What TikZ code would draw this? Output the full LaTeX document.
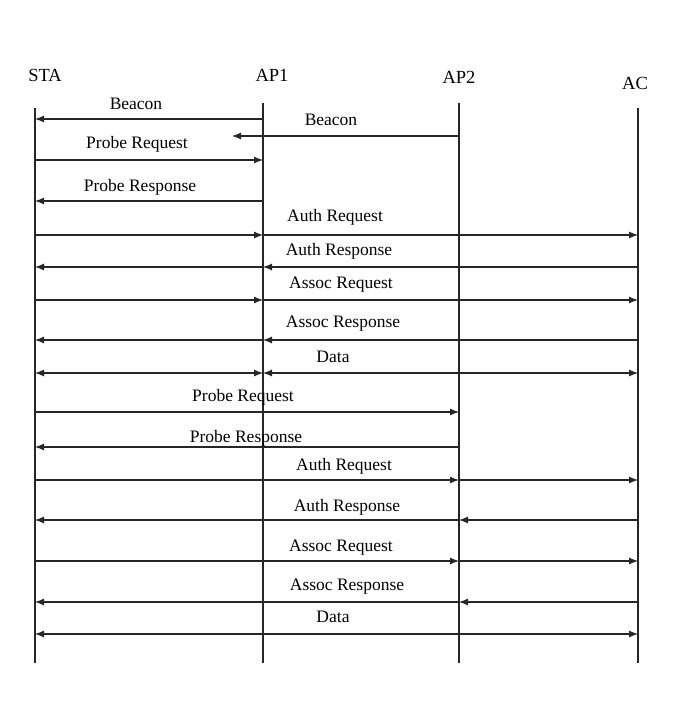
\documentclass[tikz,border=0pt]{standalone}
\usepackage{fontspec}
\setmainfont{Liberation Serif}
\usetikzlibrary{arrows.meta}

\begin{document}
\begin{tikzpicture}[x=1pt, y=-1pt,
    msg/.style={-{Latex[length=9pt,width=7pt]}, line width=1.1pt, black!85},
    both/.style={{Latex[length=9pt,width=7pt]}-{Latex[length=9pt,width=7pt]}, line width=1.1pt, black!85},
    life/.style={line width=1.1pt, black!85},
    lbl/.style={font=\fontsize{17.5}{19}\selectfont, inner sep=0pt},
    head/.style={font=\fontsize{18.5}{20}\selectfont, inner sep=0pt}]
    \useasboundingbox (0,0) rectangle (690,701);

    % Entities
    \node[head] (sta) at (45,75) {STA};
    \node[head] (ap1) at (272,75) {AP1};
    \node[head] (ap2) at (459,77) {AP2};
    \node[head] (ac)  at (635,83) {AC};

    % Lifelines
    \coordinate (staT) at (35,108);  \coordinate (staB) at (35,663);
    \coordinate (ap1T) at (263,103); \coordinate (ap1B) at (263,663);
    \coordinate (ap2T) at (459,103); \coordinate (ap2B) at (459,663);
    \coordinate (acT)  at (638,108); \coordinate (acB)  at (638,663);
    \draw[life] (staT) -- (staB);
    \draw[life] (ap1T) -- (ap1B);
    \draw[life] (ap2T) -- (ap2B);
    \draw[life] (acT) -- (acB);

    % Message rows
    \foreach \n/\y in {1/119, 2/136, 3/160, 4/201, 5/235, 6/267, 7/300, 8/340,
        9/373, 10/412, 11/447, 12/480, 13/520, 14/561, 15/602, 16/634}
        \coordinate (r\n) at (0,\y);

    % Beacons
    \draw[msg] (ap1T |- r1) -- (staT |- r1);
    \node[lbl] (l1) at (136,104) {Beacon};
    \coordinate (bcnEnd) at (232,136);
    \draw[msg] (ap2T |- r2) -- (bcnEnd);
    \node[lbl] (l2) at (331,120) {Beacon};

    % Association with AP1
    \draw[msg] (staT |- r3) -- (ap1T |- r3);
    \node[lbl] (l3) at (137,144) {Probe Request};
    \draw[msg] (ap1T |- r4) -- (staT |- r4);
    \node[lbl] (l4) at (140,187) {Probe Response};
    \draw[msg] (staT |- r5) -- (ap1T |- r5);
    \draw[msg] (ap1T |- r5) -- (acT |- r5);
    \node[lbl] (l5) at (335,217) {Auth Request};
    \draw[msg] (acT |- r6) -- (ap1T |- r6);
    \draw[msg] (ap1T |- r6) -- (staT |- r6);
    \node[lbl] (l6) at (339,251) {Auth Response};
    \draw[msg] (staT |- r7) -- (ap1T |- r7);
    \draw[msg] (ap1T |- r7) -- (acT |- r7);
    \node[lbl] (l7) at (341,285) {Assoc Request};
    \draw[msg] (acT |- r8) -- (ap1T |- r8);
    \draw[msg] (ap1T |- r8) -- (staT |- r8);
    \node[lbl] (l8) at (343,324) {Assoc Response};
    \draw[both] (staT |- r9) -- (ap1T |- r9);
    \draw[both] (ap1T |- r9) -- (acT |- r9);
    \node[lbl] (l9) at (333,357) {Data};

    % Handover to AP2
    \draw[msg] (staT |- r10) -- (ap2T |- r10);
    \node[lbl] (l10) at (243,397) {Probe Request};
    \draw[msg] (ap2T |- r11) -- (staT |- r11);
    \node[lbl] (l11) at (246,438) {Probe Response};
    \draw[msg] (staT |- r12) -- (ap2T |- r12);
    \draw[msg] (ap2T |- r12) -- (acT |- r12);
    \node[lbl] (l12) at (344,466) {Auth Request};
    \draw[msg] (acT |- r13) -- (ap2T |- r13);
    \draw[msg] (ap2T |- r13) -- (staT |- r13);
    \node[lbl] (l13) at (347,507) {Auth Response};
    \draw[msg] (staT |- r14) -- (ap2T |- r14);
    \draw[msg] (ap2T |- r14) -- (acT |- r14);
    \node[lbl] (l14) at (341,548) {Assoc Request};
    \draw[msg] (acT |- r15) -- (ap2T |- r15);
    \draw[msg] (ap2T |- r15) -- (staT |- r15);
    \node[lbl] (l15) at (347,587) {Assoc Response};
    \draw[both] (staT |- r16) -- (acT |- r16);
    \node[lbl] (l16) at (333,617) {Data};
\end{tikzpicture}
\end{document}
